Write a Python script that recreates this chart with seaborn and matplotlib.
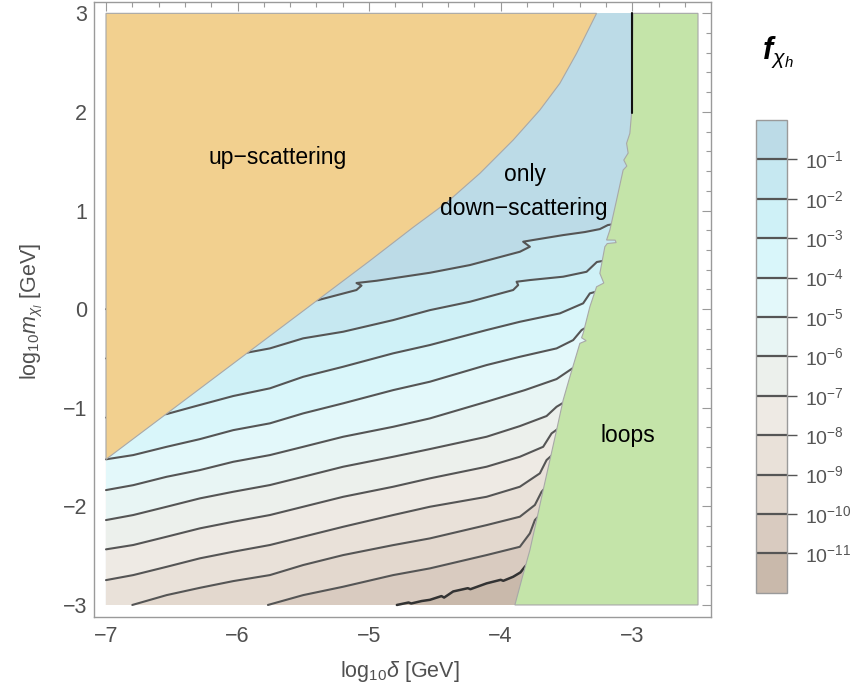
import numpy as np
import pandas as pd
import matplotlib
matplotlib.use("Agg")
import matplotlib.pyplot as plt
from matplotlib.colors import ListedColormap, BoundaryNorm
from matplotlib.cm import ScalarMappable
from matplotlib.ticker import MultipleLocator
import seaborn as sns

sns.set_style("white")
plt.rcParams["font.family"] = ["Liberation Sans", "DejaVu Sans"]
plt.rcParams["mathtext.fontset"] = "custom"
plt.rcParams["mathtext.rm"] = "Liberation Sans"
plt.rcParams["mathtext.it"] = "Liberation Sans:italic"
plt.rcParams["mathtext.bf"] = "Liberation Sans:bold:italic"

# ---- data ---------------------------------------------------------------
# contour levels of log10 f_{chi_h}
levels = [-1, -2, -3, -4, -5, -6, -7, -8, -9, -10, -11]
level_labels = ["$10^{-%d}$" % (-lv) for lv in levels]

# band colours, from the [-1, 0] band down to the [-12, -11] band
band_colors = ["#BCDBE7", "#C6E8F1", "#CFF1F7", "#D9F6FA", "#E3F8FA", "#E8F5F4",
               "#ECF0EC", "#EEEAE4", "#E9E1D9", "#E3D8CE", "#D9CBC0", "#C9B9AB"]

# boundary of the up-scattering region (log10 delta, log10 m)
up_x = [-7.0, -6.0, -5.0, -4.665, -4.411, -4.158, -3.905, -3.702, -3.550, -3.423, -3.347, -3.271]
up_y = [-1.523, -0.519, 0.485, 0.830, 1.080, 1.377, 1.715, 2.019, 2.290, 2.594, 2.797, 3.0]

# boundary of the loop-dominated region
loop_x = [-2.995, -3.003, -3.005, -3.018, -3.043, -3.031, -3.064, -3.041, -3.069, -3.119,
          -3.170, -3.195, -3.13, -3.122, -3.19, -3.208, -3.246, -3.216, -3.271, -3.322,
          -3.373, -3.385, -3.35, -3.398, -3.474, -3.525, -3.575, -3.626, -3.677, -3.727,
          -3.778, -3.831, -3.892]
loop_y = [3.0, 2.121, 1.989, 1.783, 1.682, 1.583, 1.512, 1.451, 1.411, 1.106,
          0.802, 0.701, 0.70, 0.675, 0.665, 0.633, 0.363, 0.265, 0.227, 0.024,
          -0.245, -0.29, -0.32, -0.347, -0.686, -0.922, -1.227, -1.531, -1.835, -2.139,
          -2.444, -2.697, -3.0]

# vertical edge at log10 delta = -3
edge_x = [-3.0, -3.0]
edge_y = [3.0, 1.99]

# contour lines
c1_x = [-7.0, -5.387, -5.096, -5.058, -5.096, -4.943, -4.538, -4.234, -3.854, -3.778, -3.829, -3.754, -3.525, -3.360, -3.246, -3.185, -3.10]
c1_y = [0.0, 0.092, 0.194, 0.239, 0.265, 0.288, 0.369, 0.447, 0.582, 0.633, 0.684, 0.701, 0.751, 0.782, 0.812, 0.853, 0.87]

c2_x = [-7.0, -5.931, -5.754, -5.501, -5.197, -4.817, -4.538, -4.234, -3.905, -3.867, -3.879, -3.778, -3.525, -3.347, -3.269, -3.18]
c2_y = [-0.5, -0.442, -0.398, -0.296, -0.229, -0.111, -0.010, 0.075, 0.194, 0.244, 0.278, 0.295, 0.329, 0.379, 0.478, 0.50]

c3_x = [-7.0, -6.539, -6.337, -6.033, -5.754, -5.501, -5.197, -4.817, -4.538, -4.107, -3.854, -3.550, -3.373, -3.322, -3.24]
c3_y = [-1.1, -1.064, -0.990, -0.881, -0.803, -0.686, -0.584, -0.448, -0.364, -0.212, -0.128, -0.043, 0.059, 0.160, 0.19]

c4_x = [-7.0, -6.793, -6.539, -6.286, -6.033, -5.754, -5.501, -5.197, -4.817, -4.538, -4.107, -3.854, -3.575, -3.449, -3.385, -3.33]
c4_y = [-1.523, -1.480, -1.396, -1.318, -1.227, -1.158, -1.057, -0.955, -0.821, -0.736, -0.567, -0.483, -0.398, -0.314, -0.212, -0.17]

c5_x = [-7.0, -6.793, -6.539, -6.286, -6.033, -5.754, -5.501, -5.197, -4.817, -4.538, -4.107, -3.816, -3.575, -3.474, -3.42]
c5_y = [-1.835, -1.785, -1.700, -1.632, -1.548, -1.480, -1.396, -1.294, -1.193, -1.108, -0.939, -0.821, -0.709, -0.618, -0.57]

c6_x = [-7.0, -6.793, -6.539, -6.286, -6.033, -5.754, -5.501, -5.197, -4.817, -4.538, -4.107, -3.854, -3.651, -3.575, -3.50]
c6_y = [-2.139, -2.088, -2.004, -1.919, -1.852, -1.784, -1.700, -1.598, -1.497, -1.419, -1.294, -1.186, -1.084, -0.990, -0.93]

c7_x = [-7.0, -6.793, -6.539, -6.286, -6.033, -5.754, -5.501, -5.197, -4.817, -4.538, -4.107, -3.854, -3.677, -3.613, -3.55]
c7_y = [-2.436, -2.392, -2.308, -2.223, -2.156, -2.088, -2.004, -1.903, -1.801, -1.716, -1.598, -1.497, -1.396, -1.260, -1.20]

c8_x = [-7.0, -6.793, -6.539, -6.286, -6.033, -5.754, -5.501, -5.197, -4.817, -4.538, -4.107, -3.854, -3.702, -3.651, -3.60]
c8_y = [-2.748, -2.697, -2.613, -2.527, -2.460, -2.392, -2.308, -2.207, -2.088, -2.004, -1.903, -1.801, -1.665, -1.530, -1.47]

c9_x = [-6.80, -6.539, -6.286, -6.033, -5.754, -5.501, -5.197, -4.817, -4.538, -4.107, -3.854, -3.740, -3.689, -3.64]
c9_y = [-3.0, -2.900, -2.826, -2.758, -2.697, -2.595, -2.494, -2.393, -2.325, -2.190, -2.105, -1.986, -1.852, -1.78]

c10_x = [-5.769, -5.501, -5.197, -4.817, -4.538, -4.107, -3.854, -3.778, -3.740, -3.69]
c10_y = [-3.0, -2.900, -2.815, -2.697, -2.629, -2.494, -2.410, -2.274, -2.139, -2.07]

c11_x = [-4.789, -4.70, -4.68, -4.60, -4.538, -4.45, -4.43, -4.361, -4.25, -4.23, -4.107, -4.0, -3.98, -3.905, -3.85, -3.816, -3.77]
c11_y = [-3.0, -2.975, -2.985, -2.960, -2.948, -2.910, -2.925, -2.863, -2.830, -2.840, -2.781, -2.745, -2.755, -2.714, -2.670, -2.613, -2.55]

contours_x = [c1_x, c2_x, c3_x, c4_x, c5_x, c6_x, c7_x, c8_x, c9_x, c10_x, c11_x]
contours_y = [c1_y, c2_y, c3_y, c4_y, c5_y, c6_y, c7_y, c8_y, c9_y, c10_y, c11_y]

x_min, x_max = -7.0, -2.5
y_min, y_max = -3.0, 3.0

# ---- figure ---------------------------------------------------------------
fig = plt.figure(figsize=(8.68, 6.98), dpi=100)
ax = fig.add_axes([93.5 / 868, (698 - 616.5) / 698, 617 / 868, 615 / 698])
ax.set_facecolor("white")

# filled bands: top band first, then each contour fills everything below it
ax.fill([x_min, x_max, x_max, x_min], [y_min, y_min, y_max, y_max],
        color=band_colors[0], lw=0, zorder=1)
for k, (cx, cy) in enumerate(zip(contours_x, contours_y)):
    px = list(cx) + [cx[-1], cx[0]]
    py = list(cy) + [y_min, y_min]
    ax.fill(px, py, color=band_colors[k + 1], lw=0, zorder=1)

# contour lines
rows = []
for lv, cx, cy in zip(levels[:-1], contours_x[:-1], contours_y[:-1]):
    for i, (xx, yy) in enumerate(zip(cx, cy)):
        rows.append({"level": lv, "order": i, "x": xx, "y": yy})
lines_df = pd.DataFrame(rows)
sns.lineplot(data=lines_df, x="x", y="y", units="level", estimator=None, sort=False,
             color="#555555", lw=1.5, legend=False, ax=ax, zorder=2)
last_df = pd.DataFrame({"x": c11_x, "y": c11_y})
sns.lineplot(data=last_df, x="x", y="y", estimator=None, sort=False,
             color="#333333", lw=1.8, legend=False, ax=ax, zorder=2)

# up-scattering region
ax.fill(up_x + [x_min], up_y + [y_max], facecolor="#F2D08F",
        edgecolor="#a8a8a8", lw=0.8, zorder=3)
# loop region
ax.fill(loop_x + [x_max, x_max], loop_y + [y_min, y_max], facecolor="#C4E4A9",
        edgecolor="#a8a8a8", lw=0.8, zorder=3)
sns.lineplot(x=edge_x, y=edge_y, estimator=None, sort=False, color="#111111",
             lw=1.5, ax=ax, zorder=4)

# region labels
label_kw = dict(fontsize=16.5, ha="center", va="center", color="black", zorder=5)
ax.text(-5.693, 1.543, "up\u2212scattering", **label_kw)
ax.text(-3.816, 1.370, "only", **label_kw)
ax.text(-3.824, 1.025, "down\u2212scattering", **label_kw)
ax.text(-3.033, -1.277, "loops", **label_kw)

# axes styling
ax.set_xlim(-7.095, -2.405)
ax.set_ylim(-3.117, 3.120)
ax.xaxis.set_major_locator(MultipleLocator(1))
ax.xaxis.set_minor_locator(MultipleLocator(0.2))
ax.yaxis.set_major_locator(MultipleLocator(1))
ax.yaxis.set_minor_locator(MultipleLocator(0.2))
ax.tick_params(which="both", direction="in", top=True, right=True,
               color="#9a9a9a", width=0.8, labelsize=15.5, labelcolor="#505050")
ax.tick_params(which="major", length=6.5)
ax.tick_params(which="minor", length=3.5)
ax.tick_params(axis="x", pad=7)
ax.tick_params(axis="y", pad=4.5)
ax.set_xlabel("")
ax.set_ylabel("")
for sp in ax.spines.values():
    sp.set_color("#9a9a9a")
    sp.set_linewidth(1.0)
    sp.set_visible(True)

fig.text(400 / 868, 1 - 671 / 698, r"log$_{10}\delta$ [GeV]", fontsize=15.5,
         color="#505050", ha="center", va="center")
fig.text(32 / 868, 1 - 311 / 698, r"log$_{10}m_{\chi_l}$ [GeV]", fontsize=15.5,
         color="#505050", ha="center", va="center", rotation=90)

# legend bar
cax = fig.add_axes([756 / 868, (698 - 592.7) / 698, 31.3 / 868, 472.7 / 698])
bounds = np.arange(-12, 1)
cmap = ListedColormap(band_colors[::-1])
norm = BoundaryNorm(bounds, cmap.N)
cb = fig.colorbar(ScalarMappable(norm=norm, cmap=cmap), cax=cax, ticks=levels)
cb.ax.set_yticklabels(level_labels)
cb.ax.minorticks_off()
cax.tick_params(length=7.5, width=1.0, color="#555555", pad=5.5,
                labelsize=14, labelcolor="#555555")
cb.outline.set_edgecolor("#9a9a9a")
cb.outline.set_linewidth(1.0)
for lv in levels:
    cax.axhline(lv, color="#555555", lw=1.6)

fig.text(778 / 868, 1 - 52 / 698, r"$\mathbf{f}_{\chi_h}$", fontsize=22,
         color="black", ha="center", va="center")

fig.savefig("out.png", dpi=100)
